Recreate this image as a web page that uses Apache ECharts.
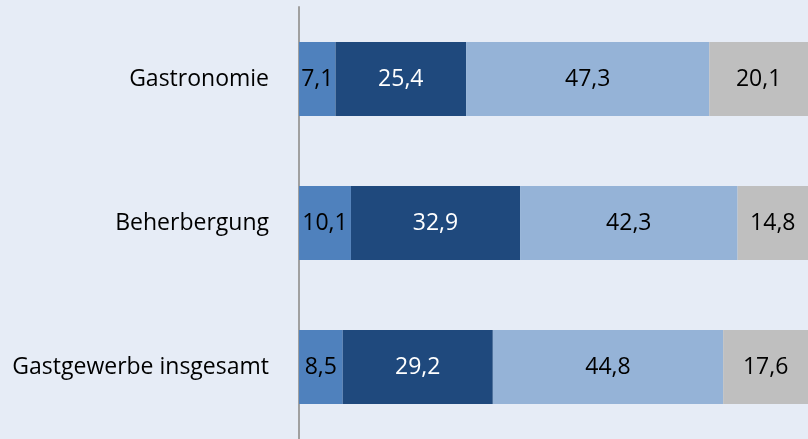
<!DOCTYPE html>
<html>
<head>
    <meta charset="utf-8">
    <title>Gastgewerbe</title>
    <script type="text/javascript" src="https://cdn.jsdelivr.net/npm/echarts@6/dist/echarts.min.js"></script>
    <style>
        html, body { margin: 0; padding: 0; background: #E6ECF6; }
    </style>
</head>
<body>
<div id="main" style="width: 808px;height:439px;"></div>
<script type="text/javascript">
    // Kategorien (von oben nach unten)
    var categories = ['Gastronomie', 'Beherbergung', 'Gastgewerbe insgesamt'];

    // Anteile in Prozent
    var serie1 = [7.1, 10.1, 8.5];
    var serie2 = [25.4, 32.9, 29.2];
    var serie3 = [47.3, 42.3, 44.8];
    var serie4 = [20.1, 14.8, 17.6];

    var colors = ['#4F81BD', '#1F497D', '#95B3D7', '#BFBFBF'];
    var labelColors = ['#000', '#fff', '#000', '#000'];

    var myChart = echarts.init(document.getElementById('main'));

    function makeSeries(name, data, idx) {
        return {
            name: name,
            type: 'bar',
            stack: 'gesamt',
            barCategoryGap: '48.6%',
            data: data,
            itemStyle: { color: colors[idx] },
            label: {
                show: true,
                position: 'inside',
                color: labelColors[idx],
                fontFamily: 'Open Sans',
                fontSize: 23,
                formatter: function (p) {
                    return p.value.toFixed(1).replace('.', ',');
                }
            },
            emphasis: { disabled: true }
        };
    }

    var option = {
        backgroundColor: '#E6ECF6',
        animation: false,
        grid: { left: 299, right: 0, top: 7, bottom: 0, containLabel: false },
        xAxis: {
            type: 'value',
            min: 0,
            max: 99,
            show: false
        },
        yAxis: {
            type: 'category',
            inverse: true,
            data: categories,
            axisLine: { show: true, lineStyle: { color: '#A0A0A0', width: 2 } },
            axisTick: { show: false },
            axisLabel: {
                color: '#000',
                fontFamily: 'Open Sans',
                fontSize: 23,
                margin: 30
            }
        },
        series: [
            makeSeries('s1', serie1, 0),
            makeSeries('s2', serie2, 1),
            makeSeries('s3', serie3, 2),
            makeSeries('s4', serie4, 3)
        ]
    };

    myChart.setOption(option);
</script>
</body>
</html>
